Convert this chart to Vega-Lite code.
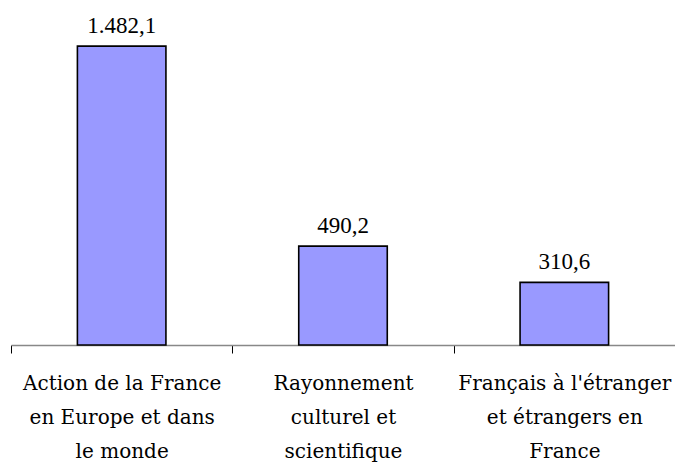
{
  "$schema": "https://vega.github.io/schema/vega-lite/v6.json",
  "width": 664,
  "height": 335,
  "autosize": {"type": "none"},
  "padding": {"left": 11, "top": 10, "right": 0, "bottom": 118},
  "background": "white",
  "config": {"view": {"stroke": null}, "font": "serif"},
  "data": {
    "values": [
      {"categorie": "Action de la France|en Europe et dans|le monde", "montant": 1482.1, "texte": "1.482,1"},
      {"categorie": "Rayonnement|culturel et|scientifique", "montant": 490.2, "texte": "490,2"},
      {"categorie": "Français à l'étranger|et étrangers en|France", "montant": 310.6, "texte": "310,6"}
    ]
  },
  "encoding": {
    "x": {
      "field": "categorie",
      "type": "nominal",
      "sort": null,
      "scale": {"paddingInner": 0, "paddingOuter": 0},
      "axis": {
        "title": null,
        "labelAngle": 0,
        "tickBand": "extent",
        "domainColor": "#888888",
        "domainWidth": 1.5,
        "tickColor": "#000000",
        "tickSize": 8,
        "tickWidth": 1,
        "labelExpr": "split(datum.label, '|')",
        "labelFont": "DejaVu Serif",
        "labelFontSize": 20,
        "labelColor": "#000000",
        "labelPadding": 20,
        "labelLineHeight": 34,
        "labelBaseline": "top",
        "labelLimit": 0
      }
    },
    "y": {
      "field": "montant",
      "type": "quantitative",
      "scale": {"domain": [0, 1661]},
      "axis": null
    }
  },
  "layer": [
    {
      "mark": {"type": "bar", "width": {"band": 0.4}, "fill": "#9999FF", "stroke": "#000000", "strokeWidth": 1.6}
    },
    {
      "mark": {"type": "text", "baseline": "alphabetic", "dy": -13, "fontSize": 23, "font": "Liberation Serif", "color": "#000000"},
      "encoding": {"text": {"field": "texte"}}
    }
  ]
}
